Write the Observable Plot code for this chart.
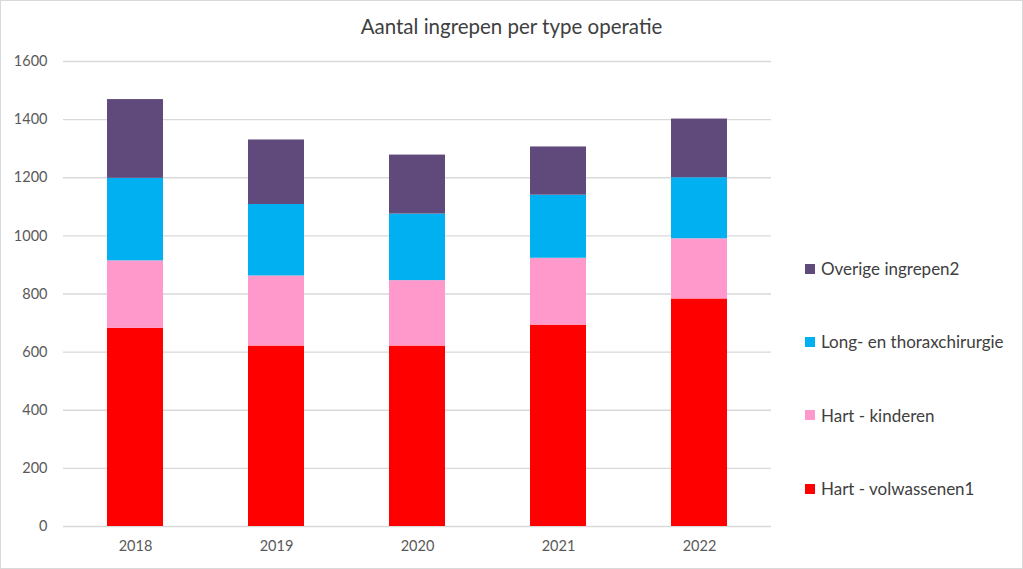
<!DOCTYPE html>
<html><head><meta charset="utf-8">
<script src="https://cdn.jsdelivr.net/npm/d3@7"></script>
<script src="https://cdn.jsdelivr.net/npm/@observablehq/plot@0.6"></script>
<style>
html,body{margin:0;padding:0;background:#fff;}
#wrap{position:relative;width:1021px;height:567px;border:1px solid #d9d9d9;font-family:Lato,"Open Sans",sans-serif;overflow:hidden;}
#title{position:absolute;left:0;width:1021px;top:13px;text-align:center;font-size:20.5px;color:#404040;}
#legend{position:absolute;left:804px;top:231px;}
.li{display:flex;align-items:center;height:73.3px;font-size:17px;color:#404040;}
.sw{width:10px;height:10px;margin-right:6px;}
#chart{position:absolute;left:0;top:0;}
</style></head>
<body><div id="wrap"><div id="chart"></div><div id="title"></div><div id="legend"></div></div>
<script>
const years = ["2018","2019","2020","2021","2022"];
const series = ["Hart - volwassenen1","Hart - kinderen","Long- en thoraxchirurgie","Overige ingrepen2"];
const colors = ["#FF0000","#FF99CC","#00B0F0","#604A7B"];
const hartVolwassenen = [682,621,621,693,783];
const hartKinderen = [232,241,225,230,207];
const longThorax = [284,246,229,217,210];
const overige = [271,222,203,166,202];
const yTicks = [0,200,400,600,800,1000,1200,1400,1600];
const title = "Aantal ingrepen per type operatie";

const values = [hartVolwassenen, hartKinderen, longThorax, overige];
const data = [];
series.forEach((s,i)=>years.forEach((y,j)=>data.push({year:y, series:s, value:values[i][j]})));

const chart = Plot.plot({
  width:1021, height:567,
  marginTop:60, marginBottom:42, marginLeft:62, marginRight:251,
  style:{fontFamily:"Lato, 'Open Sans', sans-serif", fontSize:"14.5px", color:"#595959", background:"transparent"},
  x:{domain:years, paddingInner:0.6, paddingOuter:0.3, label:null, tickSize:0, tickPadding:14},
  y:{domain:[0,1600], ticks:yTicks, label:null, tickSize:0, tickPadding:16, tickFormat:d=>String(d)},
  color:{domain:series, range:colors},
  marks:[
    Plot.ruleY(yTicks,{stroke:"#d9d9d9", strokeWidth:1.3}),
    Plot.barY(data,{x:"year", y:"value", fill:"series", order:series}),
    Plot.axisX({tickSize:0, tickPadding:14, fontSize:14.5}),
    Plot.axisY({ticks:yTicks, tickSize:0, tickPadding:16, fontSize:14.5, tickFormat:d=>String(d)})
  ]
});
document.getElementById("chart").appendChild(chart);
document.getElementById("title").textContent = title;
const lg = document.getElementById("legend");
series.slice().reverse().forEach((s)=>{
  const i = series.indexOf(s);
  const d = document.createElement("div"); d.className="li";
  d.innerHTML = `<span class="sw" style="background:${colors[i]}"></span><span></span>`;
  d.lastChild.textContent = s;
  lg.appendChild(d);
});
</script></body></html>
